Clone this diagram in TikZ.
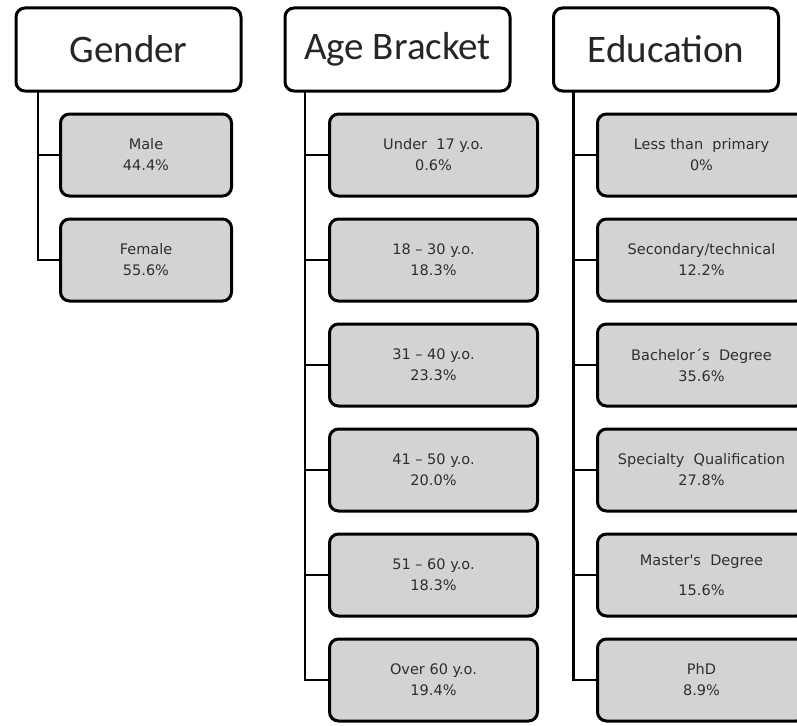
\documentclass[tikz,border=0pt]{standalone}
\usepackage{fontspec}
\usetikzlibrary{positioning}
\newfontfamily\headFont{Carlito}
\newfontfamily\itemFont{DejaVu Sans}
\definecolor{boxGray}{HTML}{D3D3D3}
\definecolor{textGray}{HTML}{2E2E2E}
\tikzset{
    cat header/.style={
        rectangle,
        draw=black,
        fill=white,
        line width=3pt,
        rounded corners=9pt,
        minimum width=225pt,
        minimum height=83pt,
        inner sep=0pt,
        outer sep=0pt,
        font=\headFont\fontsize{39}{40}\selectfont,
        text=black!85,
    },
    cat item/.style={
        rectangle,
        draw=black,
        fill=boxGray,
        line width=3pt,
        rounded corners=9pt,
        minimum width=#1,
        minimum height=82pt,
        inner sep=0pt,
        outer sep=0pt,
        align=center,
        font=\itemFont\fontsize{14.5}{21}\selectfont,
        text=textGray,
    },
    cat item/.default=208pt,
    branch/.style={
        line width=2.6pt,
        draw=black,
    },
}
\begin{document}
\begin{tikzpicture}[x=1pt, y=1pt, node distance=23pt]

\clip (0,0) rectangle (797,-725);

% ── HEADERS ────────────────────────────────────────────────────────

\node[cat header] (gender) at (128.5, -49.5) {Gender};
\node[cat header] (age) at (397.5, -49.5) {Age Bracket};
\node[cat header] (edu) at (666, -49.5) {Education};

% ── GENDER ─────────────────────────────────────────────────────────

\node[cat item=171pt] (male) at (146, -155) {Male\\44.4\%};
\node[cat item=171pt, below=of male] (female) {Female\\55.6\%};

% ── AGE BRACKET ────────────────────────────────────────────────────

\node[cat item] (under17) at (433.5, -155) {Under~~17 y.o.\\0.6\%};
\node[cat item, below=of under17] (age18) {18 – 30 y.o.\\18.3\%};
\node[cat item, below=of age18] (age31) {31 – 40 y.o.\\23.3\%};
\node[cat item, below=of age31] (age41) {41 – 50 y.o.\\20.0\%};
\node[cat item, below=of age41] (age51) {51 – 60 y.o.\\18.3\%};
\node[cat item, below=of age51] (over60) {Over 60 y.o.\\19.4\%};

% ── EDUCATION ──────────────────────────────────────────────────────

\node[cat item] (primary) at (701.5, -155) {Less than~~primary\\0\%};
\node[cat item, below=of primary] (secondary) {Secondary/technical\\12.2\%};
\node[cat item, below=of secondary] (bachelor) {Bachelor´s~~Degree\\35.6\%};
\node[cat item, below=of bachelor] (specialty) {Specialty~~Qualification\\27.8\%};
\node[cat item, below=of specialty] (master) {Master's~~Degree\\[9pt]15.6\%};
\node[cat item, below=of master] (phd) {PhD\\8.9\%};

% ── BRANCHES ───────────────────────────────────────────────────────

\draw[branch] ([xshift=22pt]gender.south west) |- (male.west);
\draw[branch] ([xshift=22pt]gender.south west) |- (female.west);

\draw[branch] ([xshift=20pt]age.south west) |- (under17.west);
\draw[branch] ([xshift=20pt]age.south west) |- (age18.west);
\draw[branch] ([xshift=20pt]age.south west) |- (age31.west);
\draw[branch] ([xshift=20pt]age.south west) |- (age41.west);
\draw[branch] ([xshift=20pt]age.south west) |- (age51.west);
\draw[branch] ([xshift=20pt]age.south west) |- (over60.west);

\draw[branch] ([xshift=20pt]edu.south west) |- (primary.west);
\draw[branch] ([xshift=20pt]edu.south west) |- (secondary.west);
\draw[branch] ([xshift=20pt]edu.south west) |- (bachelor.west);
\draw[branch] ([xshift=20pt]edu.south west) |- (specialty.west);
\draw[branch] ([xshift=20pt]edu.south west) |- (master.west);
\draw[branch] ([xshift=20pt]edu.south west) |- (phd.west);

\end{tikzpicture}
\end{document}
